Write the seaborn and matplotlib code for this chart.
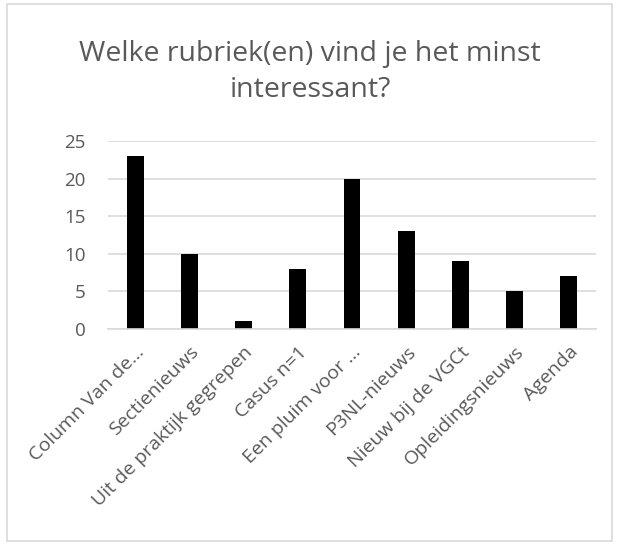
import matplotlib
matplotlib.use("Agg")
import matplotlib.pyplot as plt
import seaborn as sns
import pandas as pd
from matplotlib.patches import Rectangle

categories = ["Column Van de…", "Sectienieuws", "Uit de praktijk gegrepen", "Casus n=1",
              "Een pluim voor …", "P3NL-nieuws", "Nieuw bij de VGCt", "Opleidingsnieuws", "Agenda"]
values = [23, 10, 1, 8, 20, 13, 9, 5, 7]
yticks = [0, 5, 10, 15, 20, 25]
title = "Welke rubriek(en) vind je het minst\ninteressant?"

sns.set_theme(style="white")
plt.rcParams['font.family'] = ['Open Sans', 'DejaVu Sans']

df = pd.DataFrame({"cat": categories, "val": values})
W, H = 620, 544
fig = plt.figure(figsize=(W/100, H/100), dpi=100)
ax = fig.add_axes([108/W, 1-329/H, 488/W, (329-141)/H])
sns.barplot(data=df, x="cat", y="val", color="black", width=0.31, ax=ax,
            saturation=1, linewidth=0)
ax.set_ylim(0, 25)
ax.set_yticks(yticks)
ax.set_xlim(-0.5, len(categories)-0.5)
ax.set_xlabel("")
ax.set_ylabel("")
grey = "#595959"
ax.yaxis.grid(True, color="#d9d9d9", lw=1.2)
ax.set_axisbelow(True)
for s in ["top", "right", "left"]:
    ax.spines[s].set_visible(False)
ax.spines["bottom"].set_color("#d9d9d9")
ax.spines["bottom"].set_linewidth(1.2)
ax.tick_params(axis="y", length=0, labelsize=13.5, labelcolor=grey, pad=16)
ax.tick_params(axis="x", length=0, labelsize=14, labelcolor=grey, pad=10)
plt.setp(ax.get_xticklabels(), rotation=45, ha="right", rotation_mode="anchor")
fig.text(0.5, 1-72/H, title, ha="center", va="center", fontsize=20.5, color=grey, linespacing=1.42)
fig.patches.append(Rectangle((7/W, 3/H), (612-7)/W, (540-3)/H, transform=fig.transFigure,
                             fill=False, edgecolor="#d9d9d9", lw=1.2))
fig.savefig("out.png", dpi=100)
